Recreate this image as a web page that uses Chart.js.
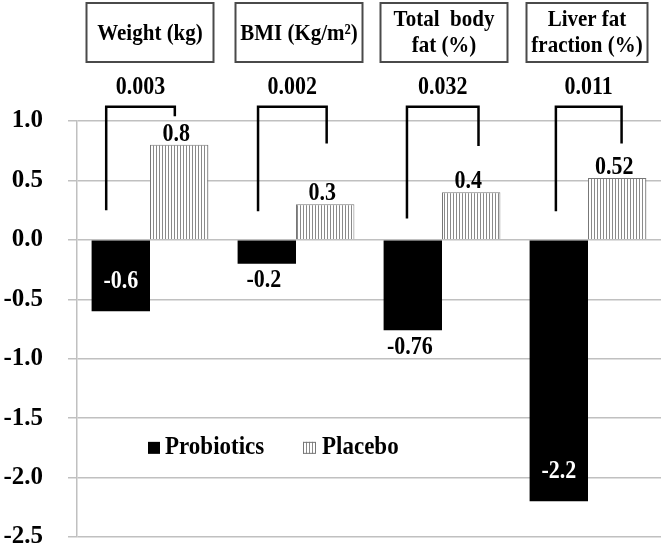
<!DOCTYPE html>
<html><head><meta charset="utf-8">
<script src="https://cdn.jsdelivr.net/npm/chart.js@4.4.1/dist/chart.umd.min.js"></script>
<style>html,body{margin:0;padding:0;background:#fff;}#wrap{width:664px;height:548px;position:relative;}</style>
</head><body><div id="wrap"><canvas id="c" width="664" height="548"></canvas></div>
<script>
// ---- data ----
const categories = ["Weight (kg)", "BMI (Kg/m²)", "Total body fat (%)", "Liver fat fraction (%)"];
const headerLines = [["Weight (kg)"], ["BMI (Kg/m²)"], ["Total  body", "fat (%)"], ["Liver fat", "fraction (%)"]];
const seriesNames = ["Probiotics", "Placebo"];
const probiotics = [-0.6, -0.2, -0.76, -2.2];
const placebo = [0.8, 0.3, 0.4, 0.52];
const pValues = ["0.003", "0.002", "0.032", "0.011"];
const bracketTopValue = 1.12;
const bracketLeftEndValue = [0.25, 0.24, 0.18, 0.24];
const bracketRightEndValue = [1.04, 0.81, 0.79, 0.81];
const yMin = -2.5, yMax = 1.0, yStep = 0.5;
const legendRowValue = -1.75;

// ---- layout / style (not data) ----
const FONT = "'Liberation Serif','Times New Roman',serif";
const bracketXFrac = [[-0.30, 0.17], [-0.26, 0.21], [-0.24, 0.25], [-0.22, 0.23]];
const probLabelInside = [true, false, false, true];
const boxWidths = [127, 127, 127, 121];
const boxShift = [0, 3, 2, -1];

function makeHatch() {
  const c = document.createElement('canvas');
  c.width = 3; c.height = 4;
  const g = c.getContext('2d');
  g.fillStyle = '#ffffff'; g.fillRect(0, 0, 3, 4);
  g.fillStyle = '#8a8a8a'; g.fillRect(0, 0, 1, 4);
  return g.createPattern(c, 'repeat');
}
const ctx = document.getElementById('c').getContext('2d');
const hatch = makeHatch();

// text drawn slightly stretched vertically, like the reference's typeface
function tallText(g, txt, x, y, sy) {
  g.save(); g.translate(x, y); g.scale(1, sy); g.fillText(txt, 0, 0); g.restore();
}

const overlay = {
  id: 'overlay',
  afterDatasetsDraw(chart) {
    const g = chart.ctx, xs = chart.scales.x, ys = chart.scales.y, ca = chart.chartArea;
    const catW = (ca.right - ca.left) / categories.length;
    g.save();
    // header boxes
    categories.forEach((c, i) => {
      const cx = xs.getPixelForValue(i) + boxShift[i];
      const w = boxWidths[i];
      g.strokeStyle = '#4a4a4a'; g.lineWidth = 2;
      g.strokeRect(cx - w / 2, 3, w, 59);
      g.fillStyle = '#000';
      g.font = 'bold 21px ' + FONT;
      g.textAlign = 'center'; g.textBaseline = 'middle';
      const lines = headerLines[i];
      if (lines.length === 1) tallText(g, lines[0], cx, 34, 1.1);
      else { tallText(g, lines[0], cx, 20, 1.1); tallText(g, lines[1], cx, 46, 1.1); }
    });
    // brackets and p-values
    categories.forEach((c, i) => {
      const cx = xs.getPixelForValue(i);
      const xl = cx + bracketXFrac[i][0] * catW, xr = cx + bracketXFrac[i][1] * catW;
      const yt = ys.getPixelForValue(bracketTopValue);
      g.strokeStyle = '#000'; g.lineWidth = 2.5; g.lineCap = 'butt'; g.lineJoin = 'miter';
      g.beginPath();
      g.moveTo(xl, ys.getPixelForValue(bracketLeftEndValue[i]));
      g.lineTo(xl, yt); g.lineTo(xr, yt);
      g.lineTo(xr, ys.getPixelForValue(bracketRightEndValue[i]));
      g.stroke();
      g.fillStyle = '#000'; g.font = 'bold 22px ' + FONT;
      g.textAlign = 'center'; g.textBaseline = 'middle';
      tallText(g, pValues[i], (xl + xr) / 2, 88, 1.12);
    });
    // value labels
    g.font = 'bold 22px ' + FONT; g.textAlign = 'center';
    const m0 = chart.getDatasetMeta(0), m1 = chart.getDatasetMeta(1);
    probiotics.forEach((v, i) => {
      const b = m0.data[i];
      g.textBaseline = 'middle';
      if (probLabelInside[i]) { g.fillStyle = '#fff'; tallText(g, v.toString(), b.x, b.y - 30, 1.12); }
      else { g.fillStyle = '#000'; tallText(g, v.toString(), b.x - 3, b.y + 17, 1.12); }
    });
    placebo.forEach((v, i) => {
      const b = m1.data[i];
      g.fillStyle = '#000'; g.textBaseline = 'alphabetic';
      tallText(g, v.toString(), b.x - 3, b.y - 4, 1.12);
    });
    // legend
    const ly = ys.getPixelForValue(legendRowValue);
    const lx0 = ca.left + 71, lx1 = ca.left + 226;
    g.fillStyle = '#000'; g.fillRect(lx0, ly - 6, 12, 12);
    g.fillStyle = hatch; g.fillRect(lx1, ly - 6, 12, 12);
    g.strokeStyle = '#777'; g.lineWidth = 1; g.strokeRect(lx1 + 0.5, ly - 5.5, 12, 11);
    g.fillStyle = '#000'; g.font = 'bold 23px ' + FONT; g.textAlign = 'left'; g.textBaseline = 'middle';
    tallText(g, seriesNames[0], lx0 + 17, ly, 1.1);
    tallText(g, seriesNames[1], lx1 + 19, ly, 1.1);
    g.restore();
  }
};

new Chart(ctx, {
  type: 'bar',
  data: {
    labels: categories,
    datasets: [
      { label: seriesNames[0], data: probiotics, backgroundColor: '#000', borderWidth: 0 },
      { label: seriesNames[1], data: placebo, backgroundColor: hatch, borderColor: '#777', borderWidth: 1 }
    ]
  },
  options: {
    responsive: false, animation: false, devicePixelRatio: 1,
    layout: { padding: { top: 121, bottom: 11, left: 0, right: 3 } },
    datasets: { bar: { categoryPercentage: 0.8, barPercentage: 1.0 } },
    plugins: { legend: { display: false }, tooltip: { enabled: false } },
    scales: {
      x: { display: false },
      y: {
        min: yMin, max: yMax,
        afterFit(s) { s.width = 77; s.paddingTop = 0; s.paddingBottom = 0; },
        ticks: { stepSize: yStep, padding: 25, color: '#000',
          font: { family: FONT, size: 25, weight: 'bold' },
          callback: v => Number(v).toFixed(1) },
        grid: { color: '#c0c0c0', lineWidth: 1.5, tickLength: 9 },
        border: { color: '#c0c0c0', width: 1.5 }
      }
    }
  },
  plugins: [overlay]
});
</script></body></html>
